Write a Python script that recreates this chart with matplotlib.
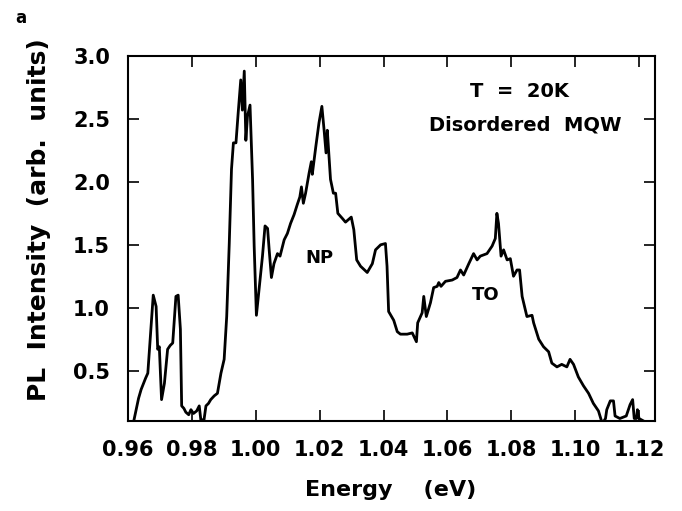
import matplotlib
matplotlib.use("Agg")
import matplotlib.pyplot as plt

# PL spectrum
energy = [0.9600, 0.9618, 0.9633, 0.9641, 0.9655, 0.9662, 0.9672, 0.9679, 0.9688, 0.9693,
          0.9698, 0.9705, 0.9714, 0.9724, 0.9732, 0.9740, 0.9750, 0.9757, 0.9764, 0.9768,
          0.9775, 0.9781, 0.9790, 0.9797, 0.9805, 0.9815, 0.9823, 0.9828, 0.9838, 0.9844,
          0.9852, 0.9859, 0.9870, 0.9880, 0.9891, 0.9901, 0.9909, 0.9917, 0.9924, 0.9930,
          0.9938, 0.9945, 0.9953, 0.9958, 0.9964, 0.9969, 0.9974, 0.9982, 0.9990, 0.9995,
          1.0002, 1.0010, 1.0021, 1.0029, 1.0037, 1.0042, 1.0049, 1.0057, 1.0068, 1.0076,
          1.0089, 1.0099, 1.0109, 1.0120, 1.0130, 1.0138, 1.0143, 1.0149, 1.0156, 1.0167,
          1.0174, 1.0177, 1.0188, 1.0198, 1.0207, 1.0214, 1.0220, 1.0224, 1.0229, 1.0234,
          1.0243, 1.0250, 1.0257, 1.0271, 1.0281, 1.0299, 1.0307, 1.0316, 1.0328, 1.0349,
          1.0365, 1.0375, 1.0391, 1.0406, 1.0411, 1.0416, 1.0432, 1.0443, 1.0453, 1.0474,
          1.0490, 1.0503, 1.0507, 1.0521, 1.0526, 1.0534, 1.0547, 1.0557, 1.0568, 1.0573,
          1.0580, 1.0594, 1.0615, 1.0630, 1.0641, 1.0651, 1.0667, 1.0682, 1.0693, 1.0703,
          1.0724, 1.0740, 1.0750, 1.0755, 1.0760, 1.0768, 1.0776, 1.0787, 1.0797, 1.0807,
          1.0818, 1.0826, 1.0834, 1.0849, 1.0865, 1.0870, 1.0886, 1.0901, 1.0917, 1.0927,
          1.0943, 1.0958, 1.0974, 1.0984, 1.0995, 1.1010, 1.1026, 1.1042, 1.1057, 1.1073,
          1.1085, 1.1095, 1.1099, 1.1110, 1.1120, 1.1125, 1.1140, 1.1160, 1.1172, 1.1180,
          1.1185, 1.1192, 1.1195, 1.1200, 1.1250]
intensity = [0.05, 0.10, 0.28, 0.35, 0.44, 0.48, 0.85, 1.10, 1.01, 0.67,
             0.69, 0.27, 0.40, 0.67, 0.70, 0.72, 1.09, 1.10, 0.83, 0.22,
             0.20, 0.17, 0.15, 0.19, 0.16, 0.18, 0.22, 0.11, 0.11, 0.22,
             0.24, 0.27, 0.30, 0.32, 0.48, 0.59, 0.93, 1.51, 2.10, 2.31,
             2.31, 2.55, 2.81, 2.57, 2.88, 2.33, 2.52, 2.61, 2.02, 1.49,
             0.94, 1.14, 1.41, 1.65, 1.63, 1.46, 1.24, 1.35, 1.43, 1.41,
             1.54, 1.59, 1.67, 1.74, 1.82, 1.88, 1.96, 1.83, 1.91, 2.07,
             2.16, 2.06, 2.28, 2.47, 2.60, 2.41, 2.23, 2.41, 2.21, 2.02,
             1.91, 1.91, 1.75, 1.71, 1.68, 1.72, 1.62, 1.38, 1.33, 1.28,
             1.35, 1.46, 1.50, 1.51, 1.33, 0.97, 0.90, 0.81, 0.79, 0.79,
             0.80, 0.73, 0.88, 0.96, 1.09, 0.93, 1.04, 1.16, 1.17, 1.20,
             1.17, 1.21, 1.22, 1.24, 1.30, 1.26, 1.35, 1.43, 1.38, 1.41,
             1.43, 1.49, 1.55, 1.75, 1.67, 1.41, 1.46, 1.38, 1.39, 1.25,
             1.30, 1.30, 1.09, 0.93, 0.94, 0.88, 0.75, 0.69, 0.65, 0.56,
             0.53, 0.55, 0.53, 0.59, 0.55, 0.45, 0.38, 0.32, 0.24, 0.18,
             0.08, 0.12, 0.19, 0.26, 0.26, 0.14, 0.12, 0.14, 0.23, 0.27,
             0.12, 0.12, 0.19, 0.12, 0.05]

xticks = [0.96, 0.98, 1.00, 1.02, 1.04, 1.06, 1.08, 1.10, 1.12]
yticks = [0.5, 1.0, 1.5, 2.0, 2.5, 3.0]

fig = plt.figure(figsize=(6.82, 5.11), dpi=100)
ax = fig.add_axes([0.1877, 0.1761, 0.7727, 0.7143])

ax.plot(energy, intensity, color="black", lw=2.0)
ax.set_xlim(0.96, 1.125)
ax.set_ylim(0.1, 3.0)

ax.set_xticks(xticks)
ax.set_xticklabels([f"{v:.2f}" for v in xticks], fontsize=15, fontweight="bold")
ax.set_yticks(yticks)
ax.set_yticklabels([f"{v:.1f}" for v in yticks], fontsize=15, fontweight="bold")
ax.tick_params(axis="both", direction="in", length=8, width=1.2, top=True, right=True)
ax.tick_params(axis="x", pad=14)
ax.tick_params(axis="y", pad=13)
for s in ax.spines.values():
    s.set_linewidth(1.5)

ax.text(1.0825, 2.717, "T  =  20K", fontsize=14, fontweight="bold", ha="center", va="center")
ax.text(1.0844, 2.452, "Disordered  MQW", fontsize=14, fontweight="bold", ha="center", va="center")
ax.text(1.020, 1.397, "NP", fontsize=13, fontweight="bold", ha="center", va="center")
ax.text(1.0721, 1.103, "TO", fontsize=13, fontweight="bold", ha="center", va="center")

fig.text(391 / 682, 1 - 490 / 511, "Energy    (eV)", fontsize=16, fontweight="bold",
         ha="center", va="center")
fig.text(39 / 682, 1 - 220 / 511, "PL  Intensity  (arb.  units)", fontsize=18,
         fontweight="bold", rotation=90, ha="center", va="center")
fig.text(15 / 682, 1 - 18 / 511, "a", fontsize=12, fontweight="bold", ha="left", va="center")

fig.savefig("out.png", dpi=100)
